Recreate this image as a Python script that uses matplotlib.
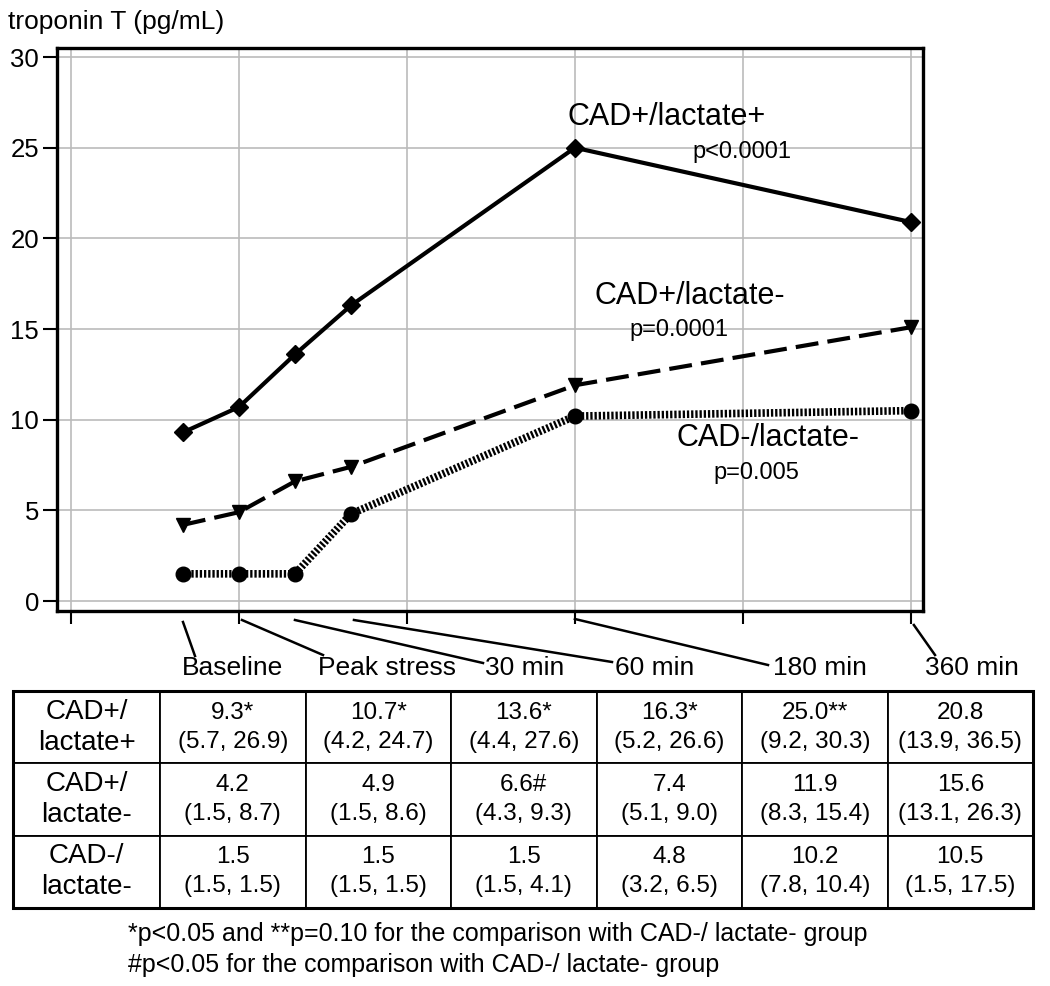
import matplotlib.pyplot as plt
import numpy as np

plt.rcParams['font.family'] = ['Liberation Sans', 'DejaVu Sans']

# time axis in minutes relative to peak stress
times = [-30, 0, 30, 60, 180, 360]
time_labels = ['Baseline', 'Peak stress', '30 min', '60 min', '180 min', '360 min']

# plotted medians
cad_pos_lac_pos = [9.3, 10.7, 13.6, 16.3, 25.0, 20.9]
cad_pos_lac_neg = [4.2, 4.9, 6.6, 7.4, 11.9, 15.1]
cad_neg_lac_neg = [1.5, 1.5, 1.5, 4.8, 10.2, 10.5]

group_names = ['CAD+/lactate+', 'CAD+/lactate-', 'CAD-/lactate-']
p_values = ['p<0.0001', 'p=0.0001', 'p=0.005']

# table: median and (IQR)
row_labels = ['CAD+/\nlactate+', 'CAD+/\nlactate-', 'CAD-/\nlactate-']
tab_median = [['9.3*', '10.7*', '13.6*', '16.3*', '25.0**', '20.8'],
              ['4.2', '4.9', '6.6#', '7.4', '11.9', '15.6'],
              ['1.5', '1.5', '1.5', '4.8', '10.2', '10.5']]
tab_iqr = [['(5.7, 26.9)', '(4.2, 24.7)', '(4.4, 27.6)', '(5.2, 26.6)', '(9.2, 30.3)', '(13.9, 36.5)'],
           ['(1.5, 8.7)', '(1.5, 8.6)', '(4.3, 9.3)', '(5.1, 9.0)', '(8.3, 15.4)', '(13.1, 26.3)'],
           ['(1.5, 1.5)', '(1.5, 1.5)', '(1.5, 4.1)', '(3.2, 6.5)', '(7.8, 10.4)', '(1.5, 17.5)']]

footnotes = ['*p<0.05 and **p=0.10 for the comparison with CAD-/ lactate- group',
             '#p<0.05 for the comparison with CAD-/ lactate- group']


W, H = 1050, 986
fig = plt.figure(figsize=(W / 100, H / 100), dpi=100)

# main plot
ax = fig.add_axes([57 / W, 1 - 611 / H, (923 - 57) / W, (611 - 48) / H])
ax.set_xlim(-97.5, 366.5)
ax.set_ylim(-0.55, 30.5)
ax.set_xticks([-90, 0, 90, 180, 270, 360])
ax.set_xticklabels([])
ax.set_yticks([0, 5, 10, 15, 20, 25, 30])
ax.tick_params(axis='y', labelsize=18.5, length=10, width=1.5, pad=3)
ax.tick_params(axis='x', length=9, width=1.5, direction='out')
ax.grid(True, color='#bbbbbb', lw=1.2)
ax.set_axisbelow(True)
for s in ax.spines.values():
    s.set_linewidth(2.4)

ax.plot(times, cad_pos_lac_pos, '-', color='black', lw=3, marker='D', ms=9.5,
        clip_on=False, zorder=5)
ax.plot(times, cad_pos_lac_neg, color='black', lw=3, ls=(0, (5.5, 2.2)),
        marker='v', ms=10.5, clip_on=False, zorder=5)
ax.plot(times, cad_neg_lac_neg, color='black', lw=5.5, ls=(0, (0.3, 0.25)),
        dash_capstyle='butt', marker='o', ms=10.5, clip_on=False, zorder=5)

# group labels and p values
ax.text(176, 26.7, group_names[0], fontsize=22, va='center')
ax.text(243, 24.75, p_values[0], fontsize=17, va='center')
ax.text(190.5, 16.8, group_names[1], fontsize=22, va='center')
ax.text(209, 14.95, p_values[1], fontsize=17, va='center')
ax.text(234.5, 9.0, group_names[2], fontsize=22, va='center')
ax.text(254, 7.05, p_values[2], fontsize=17, va='center')

fig.text(8 / W, 1 - 22 / H, 'troponin T (pg/mL)', fontsize=19, va='center')

# leader lines from time points to labels below the axis
label_pos = [(182, 668), (318, 668), (485, 668), (615, 668), (773, 668), (925, 668)]
line_end = [(195, 656), (323, 655), (483, 663), (612, 662), (768, 665), (935, 655)]
line_start_y = [622, 620, 620, 620, 619, 625]
for t, lab, (lx, ly), (ex, ey), sy in zip(times, time_labels, label_pos, line_end, line_start_y):
    x0 = ax.transData.transform((t, 0))[0]
    x0 = x0 + (3 if lab in ('Peak stress', '60 min', '360 min') else 0)
    fig.add_artist(plt.Line2D([x0 / W, ex / W], [1 - sy / H, 1 - ey / H],
                              color='black', lw=1.8, transform=fig.transFigure))
    fig.text(lx / W, 1 - ly / H, lab, fontsize=19, va='center', ha='left')

# table
tax = fig.add_axes([13 / W, 1 - 908 / H, (1033 - 13) / W, (908 - 691) / H])
tax.axis('off')
cells = [[m + '\n' + q for m, q in zip(mr, qr)] for mr, qr in zip(tab_median, tab_iqr)]
cells = [[rl] + row for rl, row in zip(row_labels, cells)]
col_w = [147] + [145.5] * 6
tbl = tax.table(cellText=cells, cellLoc='center', bbox=[0, 0, 1, 1],
                colWidths=[c / sum(col_w) for c in col_w])
tbl.auto_set_font_size(False)
for (r, c), cell in tbl.get_celld().items():
    cell.set_linewidth(1.3)
    cell.set_edgecolor('black')
    txt = cell.get_text()
    txt.set_fontsize(17.5)
    txt.set_linespacing(1.4)
    if c == 0:
        txt.set_fontsize(20)
        txt.set_linespacing(1.25)
tax.add_patch(plt.Rectangle((0, 0), 1, 1, fill=False, lw=2.2, ec='black',
                            transform=tax.transAxes, clip_on=False))

fig.text(128 / W, 1 - 934 / H, footnotes[0], fontsize=18, va='center')
fig.text(128 / W, 1 - 965 / H, footnotes[1], fontsize=18, va='center')

fig.savefig('out.png', dpi=100)
